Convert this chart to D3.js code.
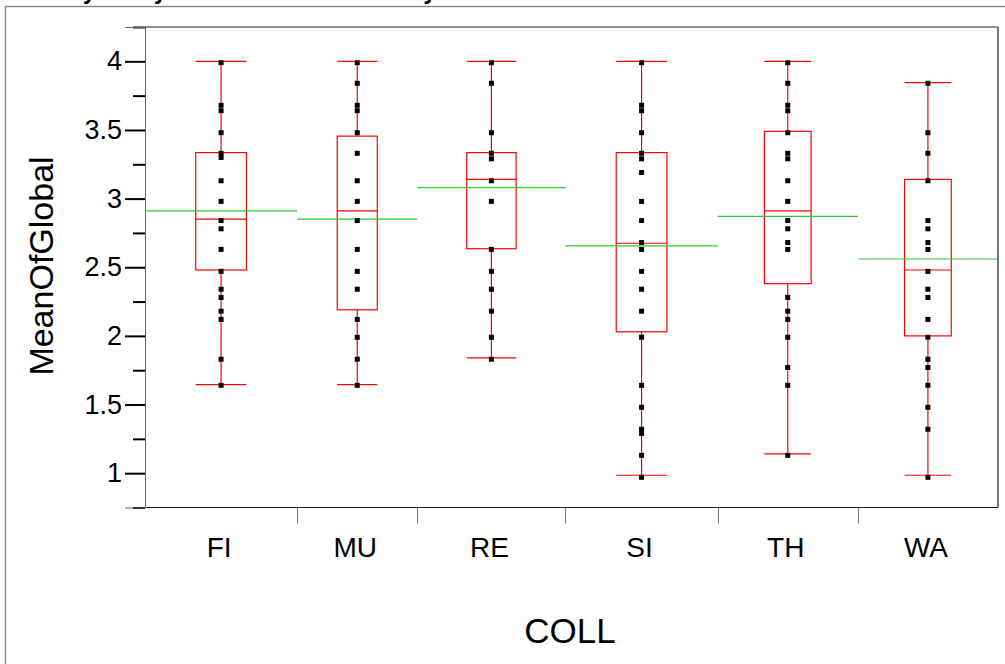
<!DOCTYPE html>
<html>
<head>
<meta charset="utf-8">
<script src="https://cdnjs.cloudflare.com/ajax/libs/d3/7.8.5/d3.min.js"></script>
<style>
    body { margin: 0; background: #fff; }
    text { font-family: Arial, "Liberation Sans", sans-serif; }
</style>
</head>
<body>
<div id="chart"></div>
<script>

// categories and group sizes (sizes set the width of each group's band)
let categories = ["FI", "MU", "RE", "SI", "TH", "WA"];
let sampleSizes = [38, 30, 37, 38, 35, 35];

// box stats
let means = [2.91, 2.85, 3.08, 2.655, 2.87, 2.56];
let quartile1 = [2.48, 2.19, 2.635, 2.03, 2.38, 2.0];
let medians = [2.85, 2.91, 3.14, 2.675, 2.91, 2.48];
let quartile3 = [3.335, 3.455, 3.335, 3.335, 3.49, 3.14];
let whiskerLow = [1.645, 1.645, 1.84, 0.985, 1.14, 0.985];
let whiskerHigh = [4.0, 4.0, 4.0, 4.0, 4.0, 3.845];

// individual points per group
let pointsFI = [3.99, 3.68, 3.64, 3.48, 3.33, 3.3, 3.13, 2.98, 2.84, 2.78, 2.63, 2.47, 2.34, 2.28, 2.18, 2.12, 1.83, 1.64];
let pointsMU = [3.99, 3.84, 3.68, 3.64, 3.48, 3.33, 3.13, 2.98, 2.84, 2.63, 2.47, 2.34, 2.12, 1.99, 1.83, 1.64];
let pointsRE = [3.99, 3.84, 3.48, 3.33, 3.29, 3.13, 2.98, 2.63, 2.47, 2.34, 2.18, 1.99, 1.83];
let pointsSI = [3.99, 3.68, 3.64, 3.48, 3.33, 3.29, 3.19, 2.98, 2.84, 2.68, 2.63, 2.47, 2.34, 2.18, 1.99, 1.64, 1.48, 1.32, 1.29, 1.13, 0.97];
let pointsTH = [3.99, 3.84, 3.68, 3.64, 3.48, 3.33, 3.29, 3.13, 2.98, 2.84, 2.78, 2.68, 2.63, 2.28, 2.18, 2.12, 1.99, 1.77, 1.64, 1.13];
let pointsWA = [3.84, 3.48, 3.33, 3.13, 2.84, 2.78, 2.68, 2.63, 2.47, 2.34, 2.28, 2.12, 1.99, 1.83, 1.77, 1.64, 1.48, 1.32, 0.97];
let groupPoints = [pointsFI, pointsMU, pointsRE, pointsSI, pointsTH, pointsWA];

let majorTicks = [1, 1.5, 2, 2.5, 3, 3.5, 4];
let minorTicks = [0.75, 1.25, 1.75, 2.25, 2.75, 3.25, 3.75, 4.25];


class OnewayVis {

    constructor(parentElement) {
        this.parentElement = parentElement;
        this.initVis();
    }

    initVis() {
        let vis = this;

        vis.width = 1005;
        vis.height = 664;
        vis.plot = {left: 145, right: 998, top: 27, bottom: 507.5};

        vis.svg = d3.select("#" + vis.parentElement).append("svg")
            .attr("width", vis.width)
            .attr("height", vis.height);

        vis.y = d3.scaleLinear()
            .domain([0.75, 4.25])
            .range([vis.plot.bottom, vis.plot.top]);

        // band edges proportional to group size
        let cum = d3.cumsum(sampleSizes);
        vis.x = d3.scaleLinear()
            .domain([0, d3.sum(sampleSizes)])
            .range([vis.plot.left, vis.plot.right]);

        vis.groups = categories.map((c, i) => {
            let x0 = vis.x(i === 0 ? 0 : cum[i - 1]);
            let x1 = vis.x(cum[i]);
            return {
                name: c, x0: x0, x1: x1, cx: (x0 + x1) / 2, bw: (x1 - x0) / 3,
                mean: means[i], q1: quartile1[i], med: medians[i], q3: quartile3[i],
                lo: whiskerLow[i], hi: whiskerHigh[i], points: groupPoints[i]
            };
        });

        vis.updateVis();
    }

    updateVis() {
        let vis = this;

        // outer report frame + cut off title
        vis.svg.append("path")
            .attr("d", "M5.5,664 L5.5,6.5 L1005,6.5")
            .attr("fill", "none")
            .attr("stroke", "#8a8a8a")
            .attr("stroke-width", 1.5);

        vis.svg.append("text")
            .attr("x", 4)
            .attr("y", -1)
            .attr("font-size", 24)
            .attr("font-weight", "bold")
            .text("Oneway Analysis of MeanOfGlobal By COLL");

        // plot frame
        vis.svg.append("line")
            .attr("x1", vis.plot.left).attr("x2", vis.plot.right)
            .attr("y1", vis.plot.top).attr("y2", vis.plot.top)
            .attr("stroke", "#222").attr("stroke-width", 1);
        vis.svg.append("line")
            .attr("x1", vis.plot.right).attr("x2", vis.plot.right)
            .attr("y1", vis.plot.top).attr("y2", vis.plot.bottom)
            .attr("stroke", "#777").attr("stroke-width", 2);
        vis.svg.append("line")
            .attr("x1", vis.plot.left).attr("x2", vis.plot.right)
            .attr("y1", vis.plot.bottom).attr("y2", vis.plot.bottom)
            .attr("stroke", "#222").attr("stroke-width", 1);

        // y axis: minor ticks, then major ticks with labels
        let minorAxis = d3.axisLeft(vis.y).tickValues(minorTicks).tickSize(12).tickFormat("");
        let majorAxis = d3.axisLeft(vis.y).tickValues(majorTicks).tickSize(20).tickPadding(3)
            .tickFormat(d3.format("~g"));

        let gMinor = vis.svg.append("g")
            .attr("transform", "translate(" + vis.plot.left + ",0)")
            .call(minorAxis);
        let gMajor = vis.svg.append("g")
            .attr("transform", "translate(" + vis.plot.left + ",0)")
            .call(majorAxis);

        [gMinor, gMajor].forEach(g => {
            g.select(".domain").attr("stroke", "#666").attr("stroke-width", 1);
            g.selectAll(".tick line").attr("stroke", "#000").attr("stroke-width", 2);
        });
        gMajor.selectAll(".tick text")
            .attr("font-size", 27)
            .attr("font-family", "Arial, 'Liberation Sans', sans-serif")
            .attr("fill", "#000");

        vis.svg.append("text")
            .attr("transform", "translate(53,266) rotate(-90)")
            .attr("text-anchor", "middle")
            .attr("font-size", 34)
            .text("MeanOfGlobal");

        // x separators and labels
        vis.svg.selectAll("line.sep")
            .data(vis.groups.slice(1))
            .enter()
            .append("line")
            .attr("class", "sep")
            .attr("x1", d => Math.round(d.x0) + 0.5)
            .attr("x2", d => Math.round(d.x0) + 0.5)
            .attr("y1", vis.plot.bottom)
            .attr("y2", vis.plot.bottom + 16)
            .attr("stroke", "#777")
            .attr("stroke-width", 1);

        vis.svg.selectAll("text.cat")
            .data(vis.groups)
            .enter()
            .append("text")
            .attr("class", "cat")
            .attr("x", d => d.cx - 2)
            .attr("y", 557)
            .attr("text-anchor", "middle")
            .attr("font-size", 28)
            .text(d => d.name);

        vis.svg.append("text")
            .attr("x", 570)
            .attr("y", 643)
            .attr("text-anchor", "middle")
            .attr("font-size", 35)
            .text("COLL");

        // mean lines across each band
        vis.svg.selectAll("line.mean")
            .data(vis.groups)
            .enter()
            .append("line")
            .attr("class", "mean")
            .attr("x1", d => d.x0)
            .attr("x2", d => d.x1)
            .attr("y1", d => vis.y(d.mean))
            .attr("y2", d => vis.y(d.mean))
            .attr("stroke", "#2ecc2e")
            .attr("stroke-width", 1.2);

        // box plots
        let box = vis.svg.selectAll("g.box")
            .data(vis.groups)
            .enter()
            .append("g")
            .attr("class", "box")
            .attr("fill", "none")
            .attr("stroke", "#ff0000")
            .attr("stroke-width", 1.2);

        box.append("line")
            .attr("x1", d => d.cx).attr("x2", d => d.cx)
            .attr("y1", d => vis.y(d.hi)).attr("y2", d => vis.y(d.lo));
        box.append("rect")
            .attr("x", d => d.cx - d.bw / 2)
            .attr("width", d => d.bw)
            .attr("y", d => vis.y(d.q3))
            .attr("height", d => vis.y(d.q1) - vis.y(d.q3))
            .attr("fill", "#fff");
        box.append("line")
            .attr("x1", d => d.cx - d.bw / 2).attr("x2", d => d.cx + d.bw / 2)
            .attr("y1", d => vis.y(d.med)).attr("y2", d => vis.y(d.med));
        box.append("line")
            .attr("x1", d => d.cx - d.bw / 2).attr("x2", d => d.cx + d.bw / 2)
            .attr("y1", d => vis.y(d.hi)).attr("y2", d => vis.y(d.hi));
        box.append("line")
            .attr("x1", d => d.cx - d.bw / 2).attr("x2", d => d.cx + d.bw / 2)
            .attr("y1", d => vis.y(d.lo)).attr("y2", d => vis.y(d.lo));

        // the mean line passes over the box
        vis.svg.selectAll("line.mean").raise();

        // points
        let pts = [];
        vis.groups.forEach(g => g.points.forEach(v => pts.push({cx: g.cx, v: v})));
        vis.svg.selectAll("rect.pt")
            .data(pts)
            .enter()
            .append("rect")
            .attr("class", "pt")
            .attr("x", d => d.cx - 2.5)
            .attr("y", d => vis.y(d.v) - 2.5)
            .attr("width", 5)
            .attr("height", 5)
            .attr("fill", "#000");
    }
}

let onewayVis = new OnewayVis("chart");

</script>
</body>
</html>
